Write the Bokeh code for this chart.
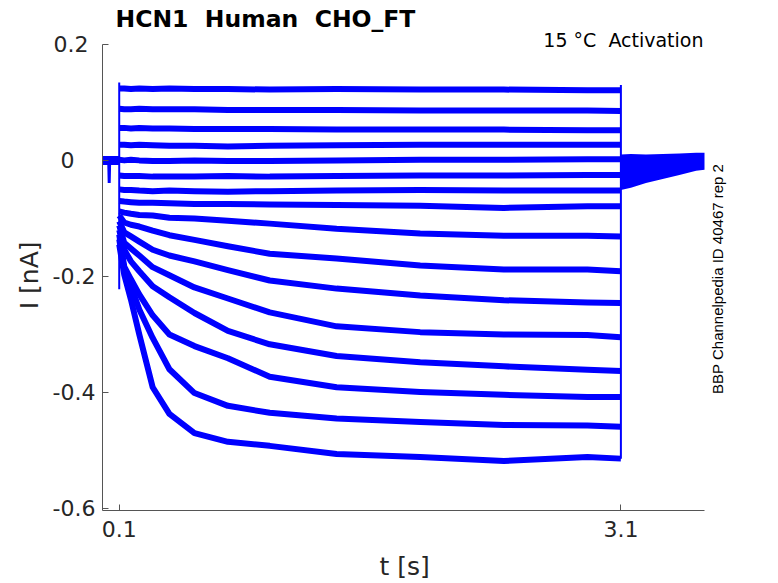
import numpy as np
from bokeh.plotting import figure
from bokeh.models import Range1d, FixedTicker, Label
from bokeh.embed import file_html
from bokeh.resources import INLINE

# ---------------- data ----------------
# time points (s) at which each sweep was read
trace_t = [0.10, 0.13, 0.17, 0.22, 0.30, 0.40, 0.55, 0.75, 1.00, 1.40, 1.90, 2.40, 2.90, 3.10]

# current of each sweep (nA), top to bottom
sweep_01 = [0.124, 0.124, 0.123, 0.124, 0.123, 0.124, 0.123, 0.123, 0.122, 0.123, 0.122, 0.122, 0.121, 0.121]
sweep_02 = [0.089, 0.088, 0.088, 0.089, 0.088, 0.088, 0.088, 0.087, 0.087, 0.087, 0.086, 0.086, 0.086, 0.085]
sweep_03 = [0.056, 0.056, 0.055, 0.056, 0.055, 0.055, 0.054, 0.054, 0.054, 0.053, 0.053, 0.053, 0.052, 0.052]
sweep_04 = [0.027, 0.027, 0.026, 0.027, 0.026, 0.025, 0.025, 0.024, 0.025, 0.026, 0.027, 0.027, 0.027, 0.027]
sweep_05 = [0.001, 0.000, 0.001, 0.000, -0.001, -0.001, 0.000, -0.001, -0.001, 0.000, 0.001, 0.001, 0.002, 0.002]
sweep_06 = [-0.026, -0.027, -0.027, -0.027, -0.028, -0.028, -0.028, -0.027, -0.028, -0.027, -0.026, -0.026, -0.025, -0.025]
sweep_07 = [-0.050, -0.051, -0.051, -0.052, -0.053, -0.052, -0.053, -0.054, -0.053, -0.052, -0.051, -0.052, -0.052, -0.052]
sweep_08 = [-0.070, -0.071, -0.072, -0.073, -0.073, -0.074, -0.075, -0.075, -0.076, -0.077, -0.078, -0.082, -0.079, -0.079]
sweep_09 = [-0.088, -0.090, -0.092, -0.094, -0.095, -0.099, -0.100, -0.104, -0.109, -0.118, -0.126, -0.130, -0.130, -0.131]
sweep_10 = [-0.095, -0.107, -0.111, -0.114, -0.121, -0.129, -0.137, -0.148, -0.161, -0.169, -0.181, -0.188, -0.188, -0.191]
sweep_11 = [-0.105, -0.124, -0.131, -0.140, -0.154, -0.164, -0.174, -0.189, -0.207, -0.221, -0.233, -0.241, -0.245, -0.246]
sweep_12 = [-0.112, -0.142, -0.152, -0.164, -0.184, -0.198, -0.219, -0.238, -0.262, -0.286, -0.296, -0.300, -0.301, -0.305]
sweep_13 = [-0.120, -0.154, -0.174, -0.191, -0.217, -0.236, -0.263, -0.294, -0.317, -0.337, -0.348, -0.355, -0.361, -0.363]
sweep_14 = [-0.128, -0.183, -0.205, -0.231, -0.267, -0.300, -0.320, -0.341, -0.373, -0.391, -0.399, -0.404, -0.408, -0.408]
sweep_15 = [-0.136, -0.188, -0.217, -0.257, -0.306, -0.360, -0.401, -0.423, -0.435, -0.445, -0.451, -0.456, -0.457, -0.459]
sweep_16 = [-0.145, -0.197, -0.240, -0.300, -0.391, -0.437, -0.470, -0.485, -0.492, -0.506, -0.511, -0.518, -0.511, -0.514]

# holding baseline before the step, with its small artefact
baseline_t = [0.0, 0.1]
baseline_i = [0.0, 0.0]
artefact_t = [0.037, 0.040, 0.043]
artefact_i = [0.0, -0.039, 0.0]

# step on / off transients (s, nA)
onset_t = 0.1
onset_range = [0.134, -0.222]
offset_t = 3.1
offset_range = [0.130, -0.514]

# tail current band after the step (envelope, nA)
tail_t = [3.10, 3.16, 3.25, 3.35, 3.45, 3.55, 3.60]
tail_upper = [0.010, 0.011, 0.010, 0.011, 0.012, 0.013, 0.013]
tail_lower = [-0.051, -0.047, -0.039, -0.032, -0.025, -0.018, -0.016]

x_ticks = [0.1, 3.1]
x_tick_labels = ["0.1", "3.1"]
y_ticks = [-0.6, -0.4, -0.2, 0.0, 0.2]
y_tick_labels = ["-0.6", "-0.4", "-0.2", "0\u00a0\u00a0\u00a0", "0.2\u00a0"]

x_axis_span = (0.0, 3.6)
y_axis_span = (-0.6034, 0.2)

sweeps = [sweep_01, sweep_02, sweep_03, sweep_04, sweep_05, sweep_06, sweep_07, sweep_08,
          sweep_09, sweep_10, sweep_11, sweep_12, sweep_13, sweep_14, sweep_15, sweep_16]

BLUE = "#0000FF"
AX = "#555555"
TXT = "#262626"
NB = "\u00a0"

# frame: left 102 px, bottom 512 px; axes drawn only over their spans,
# the frame extends to the top and right canvas edges so texts there are not clipped
W, H = 778, 583
FL, FB = 102, 512
sx = (704 - FL) / (x_axis_span[1] - x_axis_span[0])
sy = (FB - 44) / (y_axis_span[1] - y_axis_span[0])
x_end = x_axis_span[0] + (W - FL) / sx
y_end = y_axis_span[0] + FB / sy

p = figure(width=W, height=H, output_backend="svg", toolbar_location=None, title=None,
           x_range=Range1d(x_axis_span[0], x_end), y_range=Range1d(y_axis_span[0], y_end),
           min_border_left=FL, min_border_right=0, min_border_top=0, min_border_bottom=H - FB)
p.outline_line_color = None
p.grid.visible = False
p.background_fill_color = "white"
p.border_fill_color = "white"

p.varea(x=tail_t, y1=tail_lower, y2=tail_upper, fill_color=BLUE, fill_alpha=1.0)
p.line(baseline_t, baseline_i, line_width=9, color=BLUE)
p.line(artefact_t, artefact_i, line_width=3, color=BLUE)
for s in sweeps:
    p.line(trace_t, s, line_width=6, color=BLUE, line_join="round", line_cap="butt")
p.segment(x0=[onset_t, offset_t], y0=[onset_range[0], offset_range[0]],
          x1=[onset_t, offset_t], y1=[onset_range[1], offset_range[1]],
          line_width=2, color=BLUE)

for ax, ticks, labels, span in ((p.xaxis[0], x_ticks, x_tick_labels, x_axis_span),
                                (p.yaxis[0], y_ticks, y_tick_labels, y_axis_span)):
    ax.ticker = FixedTicker(ticks=ticks)
    ax.major_label_overrides = {t: l for t, l in zip(ticks, labels)}
    ax.bounds = span
    ax.major_tick_in = 6
    ax.major_tick_out = 0
    ax.minor_tick_line_color = None
    ax.axis_line_color = AX
    ax.major_tick_line_color = AX
    ax.major_label_text_font = "DejaVu Sans"
    ax.major_label_text_font_size = "22px"
    ax.major_label_text_color = TXT
    ax.axis_label_text_font = "DejaVu Sans"
    ax.axis_label_text_font_size = "25px"
    ax.axis_label_text_font_style = "normal"
    ax.axis_label_text_color = TXT

# axis labels: trailing no-break spaces keep the visible words centred on the drawn axis spans
p.xaxis.major_label_standoff = 10
p.xaxis.axis_label = "t [s]" + NB * 9
p.xaxis.axis_label_standoff = 12
p.yaxis.major_label_standoff = 7
p.yaxis.axis_label = "I [nA]" + NB * 5
p.yaxis.axis_label_standoff = 6

p.add_layout(Label(x=(115 - FL) / sx, y=0.2 + (44 - 18.7) / sy, text="HCN1" + NB + " Human" + NB + " CHO_FT",
                   text_font="DejaVu Sans", text_font_style="bold", text_font_size="23.5px",
                   text_color="black", text_baseline="alphabetic"))
p.add_layout(Label(x=(703 - FL) / sx, y=0.2 + (44 - 39.7) / sy, text="15 °C" + NB + " Activation",
                   text_font="DejaVu Sans", text_font_size="19px", text_color="black",
                   text_align="right", text_baseline="alphabetic"))
p.add_layout(Label(x=(716.7 - FL) / sx, y=0.2 - (395 - 44) / sy, text="BBP Channelpedia ID 40467 rep 2",
                   text_font="Liberation Sans", text_font_size="15px", text_color="black",
                   angle=np.pi / 2, text_align="left", text_baseline="middle"))

open("out.html", "w").write(file_html(p, INLINE))
